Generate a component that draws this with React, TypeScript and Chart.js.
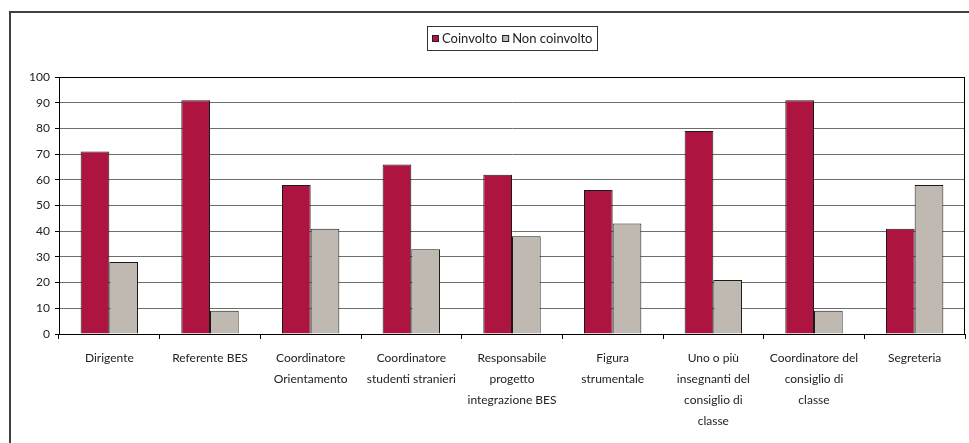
import React, { useEffect, useRef } from "react";
import { Chart, registerables } from "chart.js";

Chart.register(...registerables);

const categories: string[][] = [
  ["Dirigente"],
  ["Referente BES"],
  ["Coordinatore", "Orientamento"],
  ["Coordinatore", "studenti stranieri"],
  ["Responsabile", "progetto", "integrazione BES"],
  ["Figura", "strumentale"],
  ["Uno o più", "insegnanti del", "consiglio di", "classe"],
  ["Coordinatore del", "consiglio di", "classe"],
  ["Segreteria"],
];
const seriesNames = ["Coinvolto", "Non coinvolto"];
const coinvolto = [71, 91, 58, 66, 62, 56, 79, 91, 41];
const nonCoinvolto = [28, 9, 41, 33, 38, 43, 21, 9, 58];
const yMin = 0;
const yMax = 100;
const yStep = 10;

const RED = "#AE1440";
const GREY = "#C0B9B1";
const FONT = "Lato, 'Liberation Sans', sans-serif";

const framePlugin = {
  id: "framePlugin",
  beforeDraw(chart: any) {
    const { ctx, width, height } = chart;
    ctx.save();
    ctx.fillStyle = "#fff";
    ctx.fillRect(0, 0, width, height);
    ctx.strokeStyle = "#404040";
    ctx.lineWidth = 2;
    ctx.beginPath();
    ctx.moveTo(10, height + 5);
    ctx.lineTo(10, 12);
    ctx.lineTo(width + 5, 12);
    ctx.stroke();
    ctx.restore();
  },
  afterDraw(chart: any) {
    const { ctx, chartArea } = chart;
    ctx.save();
    ctx.strokeStyle = "#000";
    ctx.lineWidth = 1;
    ctx.strokeRect(
      Math.round(chartArea.left) + 0.5,
      Math.round(chartArea.top) + 0.5,
      Math.round(chartArea.right - chartArea.left) - 1,
      Math.round(chartArea.bottom - chartArea.top)
    );
    ctx.restore();
  },
};

const boxLegendPlugin = {
  id: "boxLegendPlugin",
  afterDraw(chart: any) {
    const { ctx, chartArea } = chart;
    const ds = chart.data.datasets;
    ctx.save();
    ctx.font = `13px ${FONT}`;
    const sq = 7;
    const gapSqText = 3;
    const gapItems = 5;
    const padX = 5;
    let total = padX * 2;
    const widths = ds.map((d: any) => ctx.measureText(d.label).width);
    widths.forEach((w: number, i: number) => {
      total += sq + gapSqText + w + (i < widths.length - 1 ? gapItems : 0);
    });
    const cx = (chartArea.left + chartArea.right) / 2;
    const top = 26;
    const h = 24;
    const left = Math.round(cx - total / 2);
    ctx.strokeStyle = "#333";
    ctx.lineWidth = 1;
    ctx.strokeRect(left + 0.5, top + 0.5, Math.round(total), h);
    let x = left + padX;
    const cy = top + h / 2 + 0.5;
    ds.forEach((d: any, i: number) => {
      ctx.fillStyle = d.backgroundColor;
      ctx.fillRect(x, Math.round(cy - sq / 2), sq, sq);
      ctx.strokeStyle = "#222";
      ctx.strokeRect(x + 0.5, Math.round(cy - sq / 2) + 0.5, sq - 1, sq - 1);
      x += sq + gapSqText;
      ctx.fillStyle = "#222";
      ctx.textBaseline = "middle";
      ctx.textAlign = "left";
      ctx.fillText(d.label, x, cy);
      x += widths[i] + gapItems;
    });
    ctx.restore();
  },
};

export default function App() {
  const ref = useRef<HTMLCanvasElement | null>(null);
  useEffect(() => {
    if (!ref.current) return;
    const chart = new Chart(ref.current, {
      type: "bar",
      data: {
        labels: categories,
        datasets: [
          {
            label: seriesNames[0],
            data: coinvolto,
            backgroundColor: RED,
            borderColor: "#1a1a1a",
            borderWidth: 1,
            categoryPercentage: 0.57,
            barPercentage: 1,
          },
          {
            label: seriesNames[1],
            data: nonCoinvolto,
            backgroundColor: GREY,
            borderColor: "#1a1a1a",
            borderWidth: 1,
            categoryPercentage: 0.57,
            barPercentage: 1,
          },
        ],
      },
      options: {
        responsive: false,
        animation: false,
        layout: { padding: { top: 77, left: 0, right: 4, bottom: 0 } },
        plugins: {
          legend: { display: false },
          tooltip: { enabled: false },
          title: { display: false },
        },
        scales: {
          x: {
            offset: true,
            grid: {
              offset: true,
              drawOnChartArea: false,
              drawTicks: true,
              tickLength: 5,
              tickColor: "#000",
              color: "#000",
            },
            border: { display: true, color: "#000", width: 1 },
            ticks: {
              autoSkip: false,
              maxRotation: 0,
              minRotation: 0,
              padding: 9,
              color: "#222",
              font: { family: FONT, size: 12, lineHeight: "21px" } as any,
            },
            afterFit: (s: any) => {
              s.height = 109;
            },
          },
          y: {
            min: yMin,
            max: yMax,
            ticks: {
              stepSize: yStep,
              padding: 5,
              color: "#222",
              font: { family: FONT, size: 12 },
            },
            grid: {
              color: (c: any) => (c.tick && c.tick.value === 0 ? "#000" : "#6e6e6e"),
              lineWidth: 1,
              drawTicks: true,
              tickLength: 4,
              tickColor: "#000",
            },
            border: { display: true, color: "#000", width: 1 },
            afterFit: (s: any) => {
              s.width = 59;
            },
          },
        },
      },
      plugins: [framePlugin, boxLegendPlugin],
    });
    return () => chart.destroy();
  }, []);
  return (
    <div style={{ position: "fixed", left: 0, top: 0, width: 969, height: 443, background: "#fff" }}>
      <canvas ref={ref} width={969} height={443} style={{ display: "block", width: 969, height: 443 }} />
    </div>
  );
}
